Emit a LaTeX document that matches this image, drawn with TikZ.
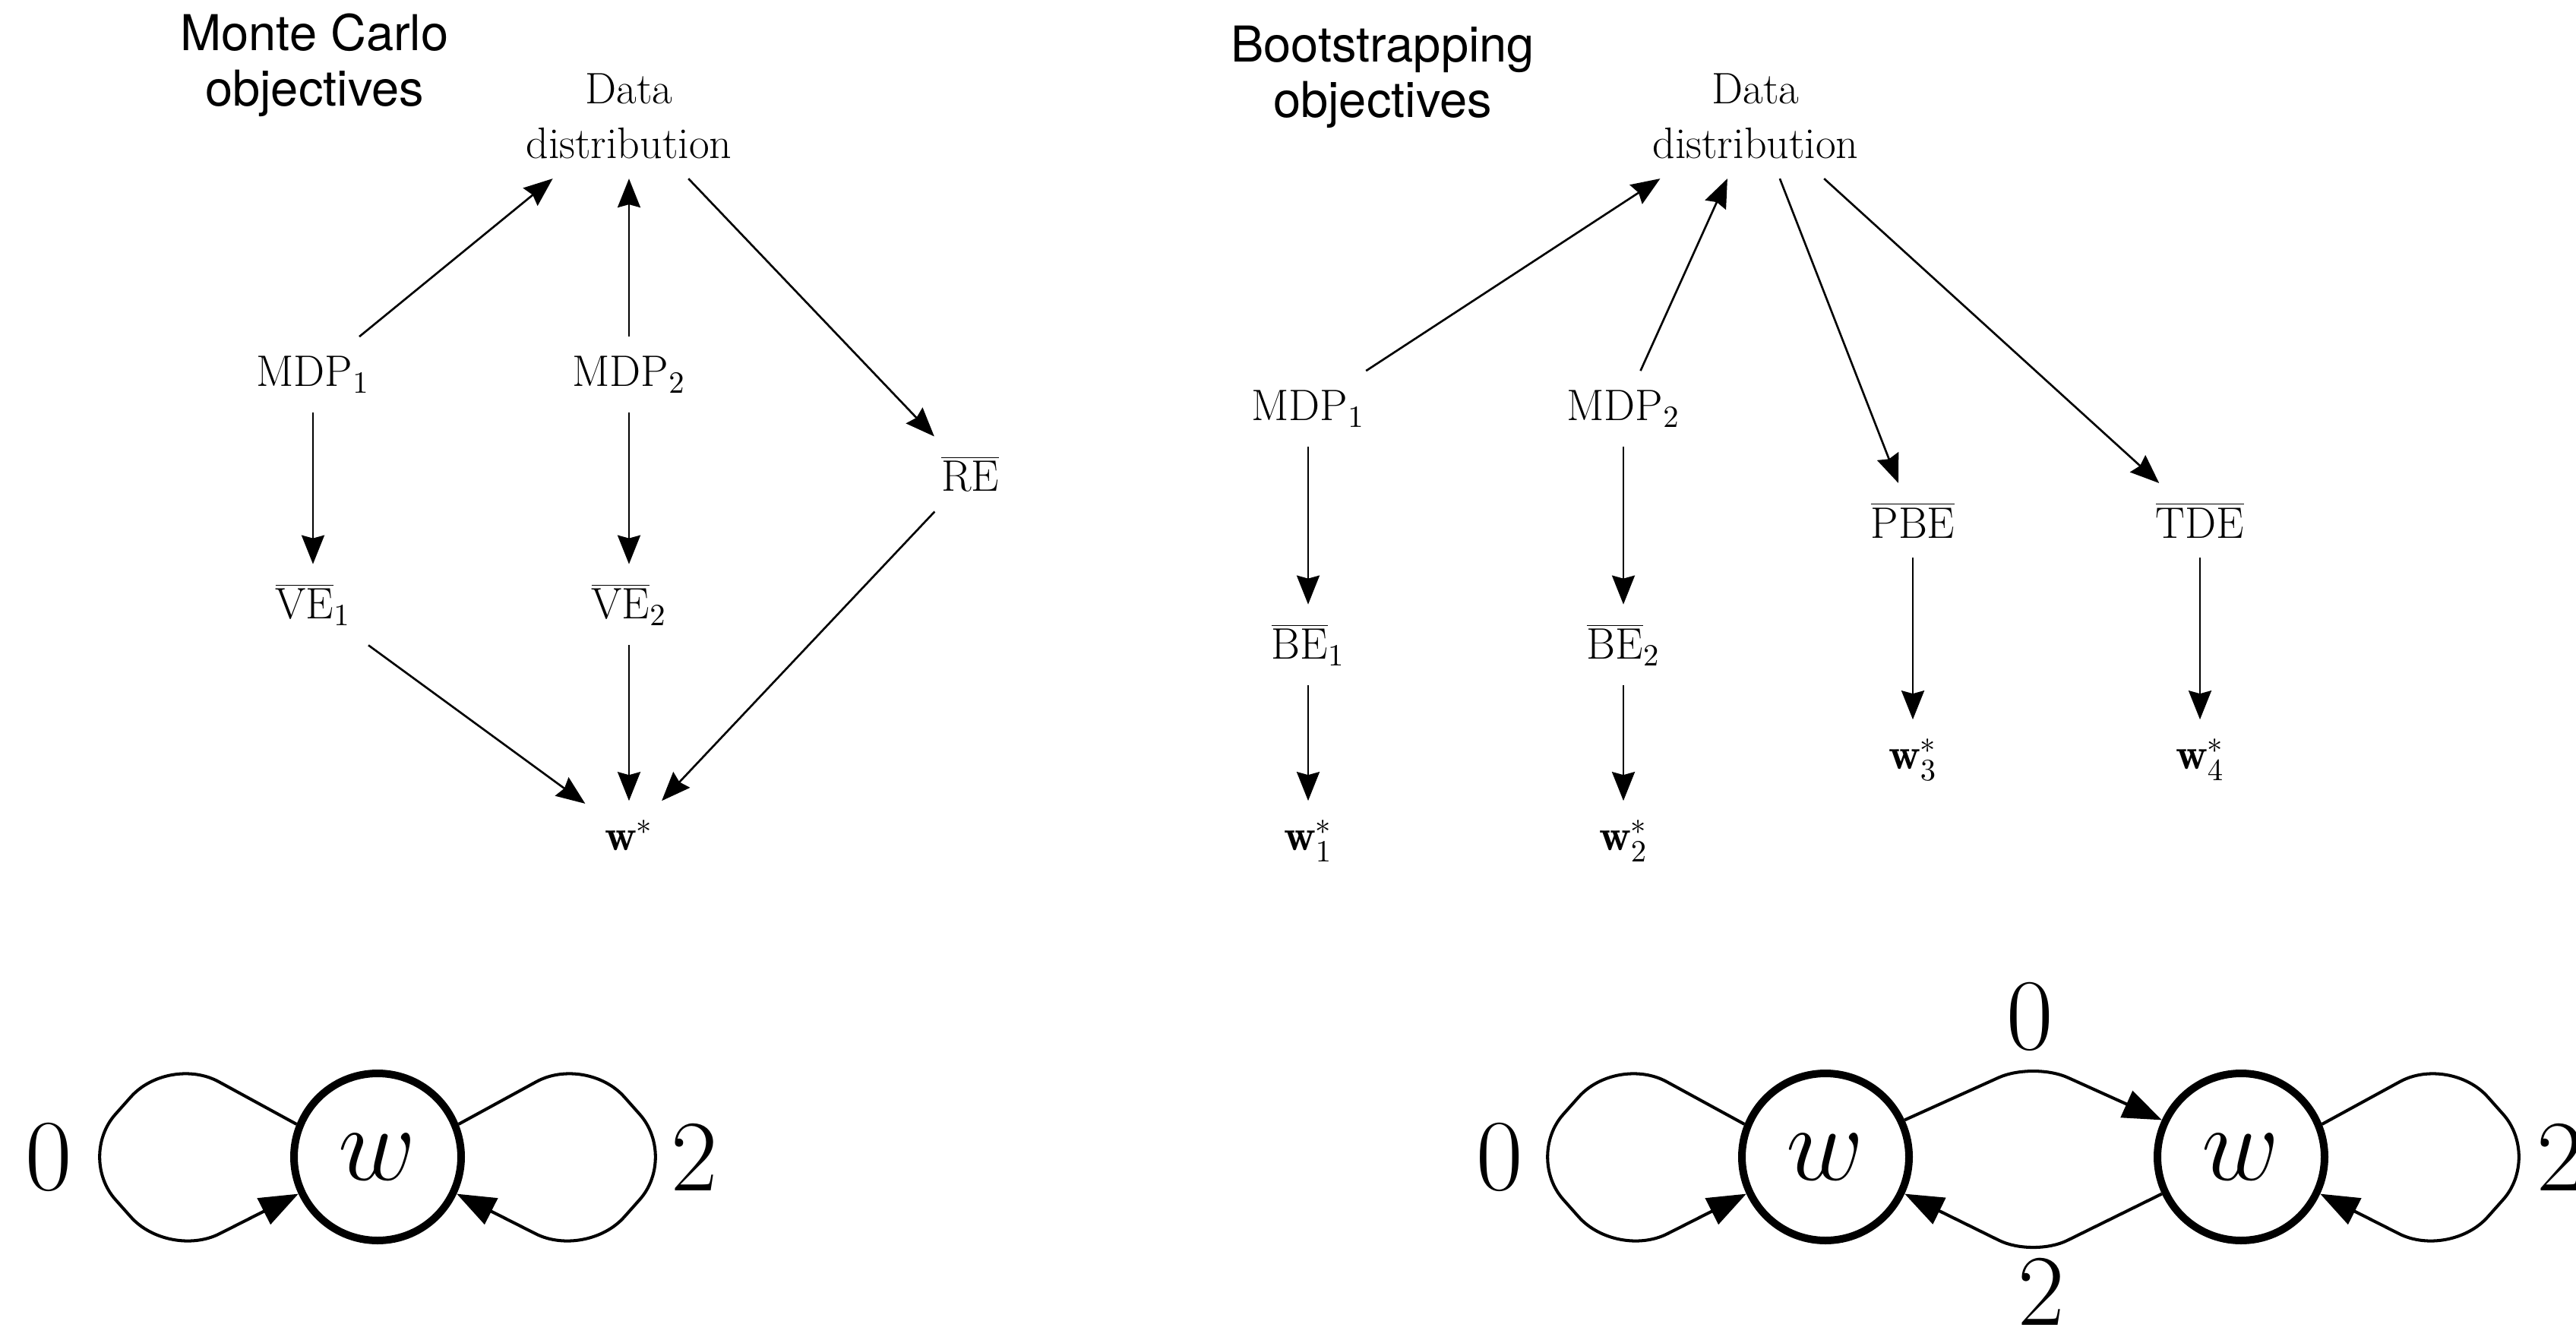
\documentclass[tikz,border=0pt]{standalone}
\usepackage{fix-cm}
\usepackage{fontspec}
\newfontfamily\headfont{TeX Gyre Heros}
\usetikzlibrary{arrows.meta, positioning, calc}

\begin{document}
\begin{tikzpicture}[
    obj/.style={inner sep=0.25cm, align=center, font=\fontsize{16.5}{20.7}\selectfont},
    head/.style={inner sep=0pt, align=center, font=\headfont\fontsize{18.5}{20.8}\selectfont},
    link/.style={-{Stealth[length=3.8mm, width=3mm, inset=0.4mm]}, line width=0.75pt},
    wstate/.style={circle, draw, line width=0.1cm, minimum size=2.2cm, inner sep=0pt, font=\fontsize{40}{44}\selectfont},
    num/.style={inner sep=0pt, font=\fontsize{38}{40}\selectfont},
    trans/.style={-{Triangle[length=5.1mm, width=3.8mm]}, line width=1.15pt, rounded corners=0.5cm},
    selfloop/.style={trans, rounded corners=0.75cm},
    ]

\useasboundingbox (0,0) rectangle (33.91,-17.64);

% Monte Carlo objectives
\node[head] at (4.14,-0.86) (mctitle) {Monte Carlo\\objectives};
\node[obj] at (8.28,-1.53) (dataa) {Data\\distribution};
\node[obj] at (4.12,-4.93) (mdpa) {$\mathrm{MDP}_1$};
\node[obj] at (8.28,-4.93) (mdpb) {$\mathrm{MDP}_2$};
\node[obj] at (12.77,-6.24) (re) {$\overline{\mathrm{RE}}$};
\node[obj] at (4.12,-7.96) (vea) {$\overline{\mathrm{VE}}_1$};
\node[obj] at (8.28,-7.96) (veb) {$\overline{\mathrm{VE}}_2$};
\node[obj] at (8.28,-11.00) (wstar) {$\mathbf{w}^*$};

\draw[link] (mdpa) -- (dataa);
\draw[link] (mdpb) -- (dataa);
\draw[link] (dataa) -- (re);
\draw[link] (mdpa) -- (vea);
\draw[link] (mdpb) -- (veb);
\draw[link] (vea) -- (wstar);
\draw[link] (veb) -- (wstar);
\draw[link] (re) -- (wstar);

% Bootstrapping objectives
\node[head] at (18.20,-1.01) (bstitle) {Bootstrapping\\objectives};
\node[obj] at (23.11,-1.53) (datab) {Data\\distribution};
\node[obj] at (17.22,-5.38) (mdpc) {$\mathrm{MDP}_1$};
\node[obj] at (21.37,-5.38) (mdpd) {$\mathrm{MDP}_2$};
\node[obj] at (25.18,-6.85) (pbe) {$\overline{\mathrm{PBE}}$};
\node[obj] at (28.96,-6.85) (tde) {$\overline{\mathrm{TDE}}$};
\node[obj] at (17.22,-8.49) (bea) {$\overline{\mathrm{BE}}_1$};
\node[obj] at (21.37,-8.49) (beb) {$\overline{\mathrm{BE}}_2$};
\node[obj] at (25.18,-10.00) (wthree) {$\mathbf{w}^*_3$};
\node[obj] at (28.96,-10.00) (wfour) {$\mathbf{w}^*_4$};
\node[obj] at (17.22,-11.07) (wone) {$\mathbf{w}^*_1$};
\node[obj] at (21.37,-11.07) (wtwo) {$\mathbf{w}^*_2$};

\draw[link] (mdpc) -- (datab);
\draw[link] (mdpd) -- (datab);
\draw[link] (datab) -- (pbe);
\draw[link] (datab) -- (tde);
\draw[link] (mdpc) -- (bea);
\draw[link] (mdpd) -- (beb);
\draw[link] (bea) -- (wone);
\draw[link] (beb) -- (wtwo);
\draw[link] (pbe) -- (wthree);
\draw[link] (tde) -- (wfour);

% one-state chain
\node[wstate] at (4.97,-15.23) (wa) {$w$};
\node[num] at (0.64,-15.23) (zeroa) {0};
\node[num] at (9.14,-15.23) (twoa) {2};

\draw[selfloop] (wa.158) -- ($(wa)+(-2.75,1.35)$) -- ($(wa)+(-3.95,0)$)
    -- ($(wa)+(-2.75,-1.35)$) -- (wa.205);
\draw[selfloop] (wa.22) -- ($(wa)+(2.75,1.35)$) -- ($(wa)+(3.95,0)$)
    -- ($(wa)+(2.75,-1.35)$) -- (wa.-25);

% two-state chain
\node[wstate] at (24.03,-15.23) (wb) {$w$};
\node[wstate] at (29.50,-15.23) (wc) {$w$};
\node[num] at (19.74,-15.23) (zerob) {0};
\node[num] at (33.70,-15.23) (twob) {2};
\node[num] at (26.72,-13.38) (zeroc) {0};
\node[num] at (26.87,-17.00) (twoc) {2};

\draw[selfloop] (wb.158) -- ($(wb)+(-2.75,1.35)$) -- ($(wb)+(-3.95,0)$)
    -- ($(wb)+(-2.75,-1.35)$) -- (wb.205);
\draw[selfloop] (wc.22) -- ($(wc)+(2.75,1.35)$) -- ($(wc)+(3.95,0)$)
    -- ($(wc)+(2.75,-1.35)$) -- (wc.-25);

\draw[trans] (wb.25) -- ($(wb)!0.5!(wc)+(0,1.25)$) -- (wc.155);
\draw[trans] (wc.205) -- ($(wb)!0.5!(wc)+(0,-1.32)$) -- (wb.-25);

\end{tikzpicture}
\end{document}
